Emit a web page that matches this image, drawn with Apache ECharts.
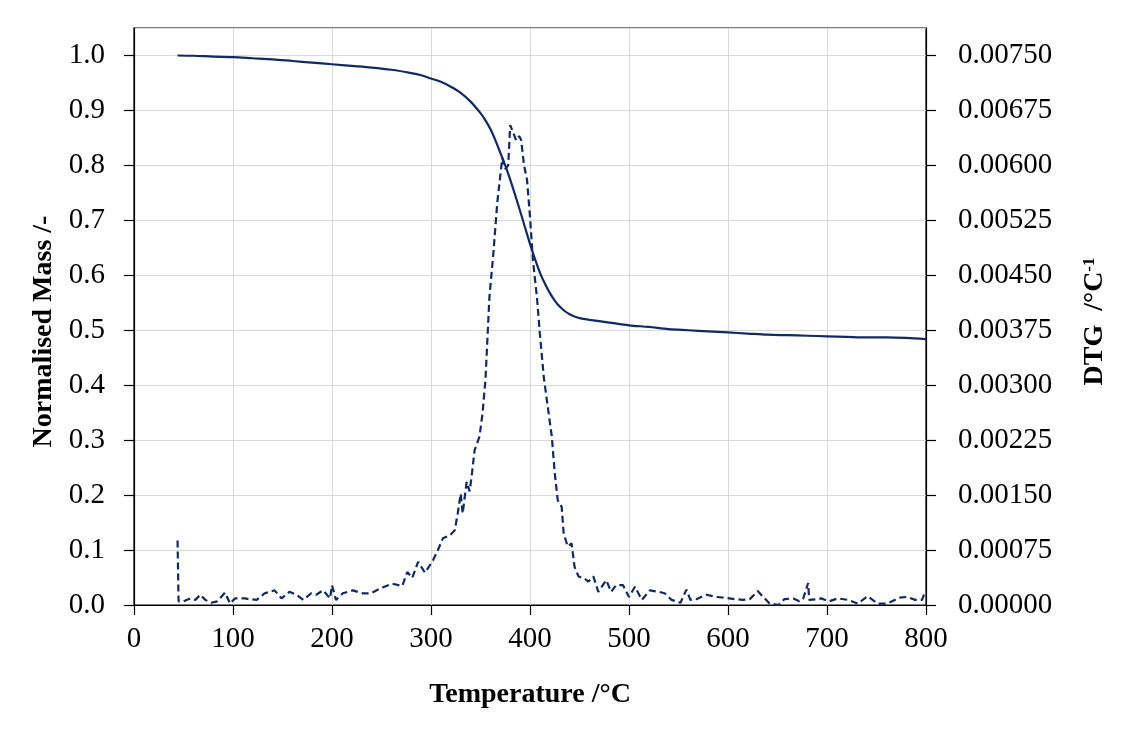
<!DOCTYPE html>
<html>
<head>
<meta charset="utf-8">
<script src="https://cdn.jsdelivr.net/npm/echarts@6/dist/echarts.min.js"></script>
<style>html,body{margin:0;padding:0;background:#fff;}#c{width:1123px;height:733px;}</style>
</head>
<body>
<div id="c"></div>
<script>
// TG curve: temperature (°C) and normalised mass (-)
var tgTemp = [44,60,80,100,120,140,160,180,200,220,240,260,280,290,300,310,320,330,340,350,355,360,365,370,375,380,385,390,395,400,405,410,415,420,425,430,435,440,445,450,460,480,500,520,540,560,580,600,620,640,660,680,700,720,740,760,780,800];
var tgMass = [1.000,0.9995,0.998,0.997,0.995,0.993,0.990,0.987,0.984,0.981,0.978,0.974,0.968,0.964,0.958,0.952,0.943,0.932,0.916,0.895,0.882,0.866,0.846,0.823,0.800,0.774,0.746,0.717,0.687,0.657,0.630,0.605,0.585,0.568,0.554,0.543,0.535,0.529,0.525,0.522,0.519,0.514,0.509,0.506,0.502,0.500,0.498,0.496,0.494,0.492,0.491,0.490,0.489,0.488,0.487,0.487,0.486,0.484];

// DTG curve: temperature (°C) and DTG (°C^-1)
var dtgTemp = [44,45,50,57,62,67,72,78,84,92,97,102,112,116,124,132,142,149,157,164,171,179,184,191,198,200,204,211,221,231,239,251,261,271,276,281,287,294,302,307,312,319,324,327,330,332,336,339,341,344,349,352,355,359,363,367,372,375,378,380,383,386,389,391,394,397,400,403,407,410,414,417,422,425,428,432,434,438,442,445,449,455,459,464,469,477,482,487,494,500,506,513,521,530,536,543,552,558,562,568,578,588,597,607,615,622,630,637,642,651,657,666,672,676,681,682,691,694,702,711,721,731,741,751,761,773,781,789,796,799];
var dtgVal = [0.00088,0.00005,0.00005,0.00009,0.00007,0.00014,0.00007,0.00003,0.00005,0.00017,0.00002,0.00009,0.00009,0.00008,0.00007,0.00016,0.00020,0.00009,0.00018,0.00014,0.00007,0.00016,0.00014,0.00020,0.00009,0.00027,0.00007,0.00016,0.00020,0.00016,0.00016,0.00024,0.00029,0.00026,0.00045,0.00037,0.00059,0.00044,0.00061,0.00075,0.00091,0.00095,0.00102,0.00125,0.00152,0.00125,0.00168,0.00155,0.00175,0.00211,0.00230,0.00261,0.00307,0.00420,0.00480,0.00550,0.00610,0.00595,0.00600,0.00655,0.00645,0.00634,0.00640,0.00635,0.00600,0.00580,0.00530,0.00470,0.00420,0.00370,0.00310,0.00280,0.00230,0.00180,0.00143,0.00134,0.00098,0.00080,0.00084,0.00052,0.00039,0.00036,0.00032,0.00039,0.00018,0.00034,0.00018,0.00027,0.00027,0.00011,0.00025,0.00007,0.00020,0.00018,0.00016,0.00007,0.00003,0.00021,0.00007,0.00008,0.00014,0.00011,0.00010,0.00008,0.00007,0.00008,0.00019,0.00009,0.00002,0.00000,0.00008,0.00009,0.00005,0.00009,0.00030,0.00007,0.00008,0.00009,0.00005,0.00009,0.00007,0.00002,0.00012,0.00002,0.00002,0.00010,0.00011,0.00007,0.00007,0.00018];

var xTitle = 'Temperature /°C';
var yLeftTitle = 'Normalised Mass /-';
var yRightTitle = 'DTG  /°C';
var yRightSup = '-1';

var FONT = 'Liberation Serif';
var lineColor = '#102a66';

var tgData = tgTemp.map(function(t,i){return [t, tgMass[i]];});
var dtgData = dtgTemp.map(function(t,i){return [t, dtgVal[i]];});

var chart = echarts.init(document.getElementById('c'));
chart.setOption({
  animation: false,
  backgroundColor: '#fff',
  grid: {left: 134, right: 197, top: 28, bottom: 128, show: true, borderColor: '#000', borderWidth: 1.2},
  xAxis: {
    type: 'value', min: 0, max: 800, interval: 100,
    name: xTitle, nameLocation: 'middle', nameGap: 76,
    nameTextStyle: {fontFamily: FONT, fontWeight: 'bold', fontSize: 28, color: '#000'},
    axisLine: {show: true, lineStyle: {color: '#000', width: 1.2}},
    axisTick: {show: true, inside: false, length: 10, lineStyle: {color: '#000', width: 1.2}},
    axisLabel: {fontFamily: FONT, fontSize: 29, color: '#000', margin: 20},
    splitLine: {show: true, lineStyle: {color: '#d9d9d9', width: 1}}
  },
  yAxis: [{
    type: 'value', min: 0, max: 1.05, interval: 0.1, position: 'left',
    name: yLeftTitle, nameLocation: 'middle', nameGap: 76, nameRotate: 90,
    nameTextStyle: {fontFamily: FONT, fontWeight: 'bold', fontSize: 28, color: '#000', padding: [0, 30, 0, 0]},
    axisLine: {show: true, lineStyle: {color: '#000', width: 1.2}},
    axisTick: {show: true, inside: false, length: 10, lineStyle: {color: '#000', width: 1.2}},
    axisLabel: {fontFamily: FONT, fontSize: 29, color: '#000', margin: 29, showMaxLabel: false,
      formatter: function(v){return v.toFixed(1);}},
    splitLine: {show: true, lineStyle: {color: '#d9d9d9', width: 1}}
  }, {
    type: 'value', min: 0, max: 0.007875, interval: 0.00075, position: 'right',
    name: yRightTitle + '{sup|' + yRightSup + '}', nameLocation: 'middle', nameGap: 155, nameRotate: 90,
    nameTextStyle: {fontFamily: FONT, fontWeight: 'bold', fontSize: 28, color: '#000', padding: [0, 10, 0, 0],
      rich: {sup: {fontFamily: FONT, fontWeight: 'bold', fontSize: 17, color: '#000', verticalAlign: 'top', padding: [0,0,10,0]}}},
    axisLine: {show: true, lineStyle: {color: '#000', width: 1.2}},
    axisTick: {show: true, inside: false, length: 10, lineStyle: {color: '#000', width: 1.2}},
    axisLabel: {fontFamily: FONT, fontSize: 29, color: '#000', margin: 32, showMaxLabel: false,
      formatter: function(v){return v.toFixed(5);}},
    splitLine: {show: false}
  }],
  series: [{
    type: 'line', yAxisIndex: 0, data: tgData, showSymbol: false, smooth: 0.3,
    lineStyle: {color: lineColor, width: 2.2}
  }, {
    type: 'line', yAxisIndex: 1, data: dtgData, showSymbol: false,
    lineStyle: {color: lineColor, width: 2.2, type: [7,4]}
  }]
});
</script>
</body>
</html>
